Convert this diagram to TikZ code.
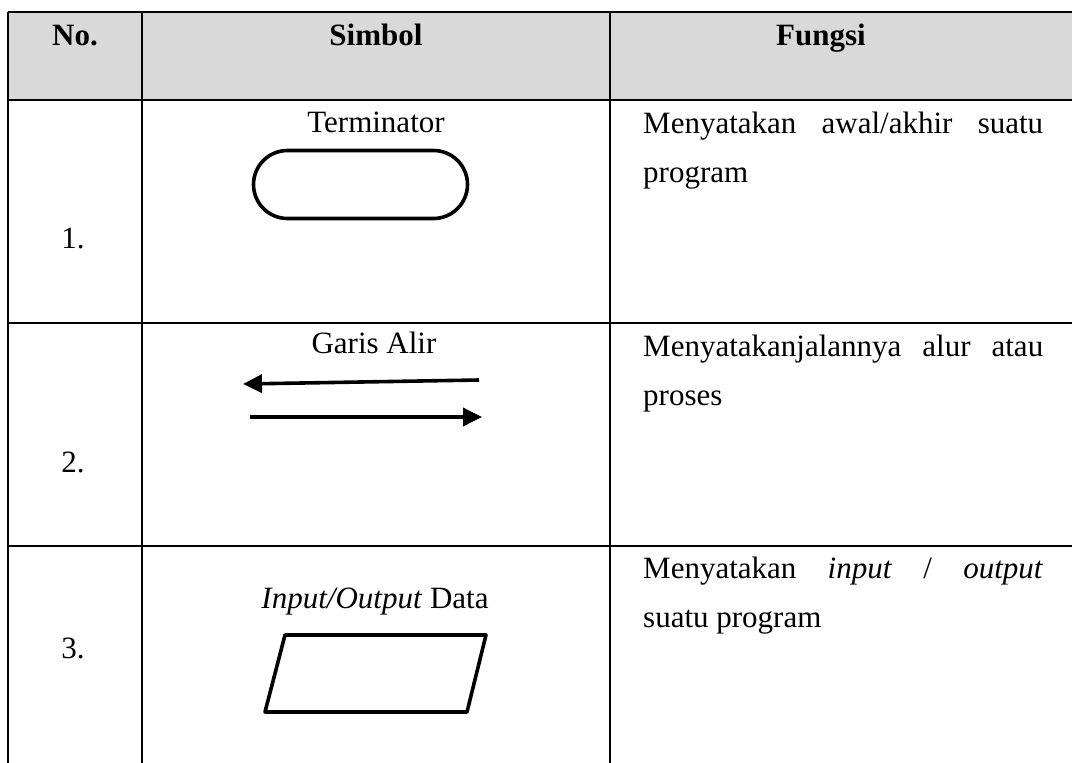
\documentclass[tikz,border=0pt]{standalone}
\usepackage{fontspec}
\setmainfont{Liberation Serif}
\usetikzlibrary{arrows.meta,shapes.misc}
\definecolor{hdrgray}{HTML}{D9D9D9}
\tikzset{
  grid/.style={line width=2.8pt, black},
  sym/.style={line width=3.6pt, black},
  txt/.style={inner sep=0pt, font=\fontsize{31}{36}\selectfont},
  hdr/.style={inner sep=0pt, font=\fontsize{31}{36}\selectfont\bfseries},
  flowtip/.style={-{Triangle[length=19pt,width=18pt]}}
}
\begin{document}
\begin{tikzpicture}[x=1pt,y=-1pt]
\useasboundingbox (0,0) rectangle (1072,763);
% header background
\fill[hdrgray] (8,12) rectangle (1072,100);
% table lines
\draw[grid] (8,12) -- (1072,12);
\draw[grid] (8,100) -- (1072,100);
\draw[grid] (8,323) -- (1072,323);
\draw[grid] (8,546) -- (1072,546);
\draw[grid] (8,12) -- (8,763);
\draw[grid] (142,12) -- (142,763);
\draw[grid] (610,12) -- (610,763);
% header texts
\node[hdr, anchor=base] (hno) at (75,45) {No.};
\node[hdr, anchor=base] (hsim) at (376,45) {Simbol};
\node[hdr, anchor=base] (hfun) at (821,45) {Fungsi};
% numbers
\node[txt, anchor=base] (n1) at (73,248) {1.};
\node[txt, anchor=base] (n2) at (73,472) {2.};
\node[txt, anchor=base] (n3) at (73,658) {3.};
% row 1
\node[txt, anchor=base] (lterm) at (376,132) {Terminator};
\node[draw, sym, rounded rectangle, minimum width=214pt, minimum height=68pt, inner sep=0pt] (term) at (360.5,184.5) {};
\node[txt, anchor=base west] (f1a) at (643,133) {\makebox[400pt][s]{Menyatakan awal/akhir suatu}};
\node[txt, anchor=base west] (f1b) at (643,182) {program};
% row 2
\node[txt, anchor=base] (lflow) at (374,353) {Garis Alir};
\coordinate (a1s) at (479,380);
\coordinate (a1e) at (243,384);
\coordinate (a2s) at (250,417);
\coordinate (a2e) at (482,417);
\draw[sym, flowtip] (a1s) -- (a1e);
\draw[sym, flowtip] (a2s) -- (a2e);
\node[txt, anchor=base west] (f2a) at (643,356) {\makebox[400pt][s]{Menyatakanjalannya alur atau}};
\node[txt, anchor=base west] (f2b) at (643,405) {proses};
% row 3
\node[txt, anchor=base] (lio) at (375,608) {\textit{Input/Output} Data};
\coordinate (p1) at (285,635);
\coordinate (p2) at (486,635);
\coordinate (p3) at (467,712);
\coordinate (p4) at (265,712);
\draw[sym, line join=round] (p1) -- (p2) -- (p3) -- (p4) -- cycle;
\node[txt, anchor=base west] (f3a) at (643,578) {\makebox[400pt][s]{Menyatakan \textit{input} / \textit{output}}};
\node[txt, anchor=base west] (f3b) at (643,627) {suatu program};
\end{tikzpicture}
\end{document}
